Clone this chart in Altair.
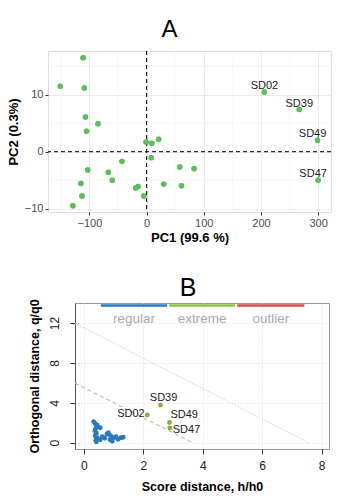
import altair as alt
import pandas as pd

FONT = "Liberation Sans"

# ---------------- Panel A data (PCA scores) ----------------
pc1 = [-111, -151, -109, -107, -85, -105, -1, 9, 21, 8, -43, -103, -67, -60,
       -115, -113, -129, -19, -15, -5, 30, 58, 83, 61, 206, 267, 299, 300]
pc2 = [16.5, 11.5, 11.2, 6.1, 4.9, 3.6, 1.7, 1.5, 2.2, -1.05, -1.7, -3.2, -3.6, -5.0,
       -5.6, -7.8, -9.5, -6.4, -6.1, -7.8, -5.7, -2.7, -3.0, -6.0, 10.5, 7.4, 2.0, -5.0]
names_a = [""] * 24 + ["SD02", "SD39", "SD49", "SD47"]
zero_ref = [0]
x_major_a = [-100, 0, 100, 200, 300]
x_minor_a = [-150, -50, 50, 150, 250]
y_major_a = [-10, 0, 10]
y_minor_a = [-5, 5, 15]

# ---------------- Panel B data (DD-SIMCA distances) ----------------
reg_h = [0.33, 0.38, 0.45, 0.55, 0.40, 0.37, 0.42, 0.38, 0.45, 0.40, 0.42, 0.55,
         0.62, 0.70, 0.78, 0.82, 0.90, 0.88, 0.95, 1.00, 1.08, 1.15, 1.25, 1.32]
reg_q = [2.10, 1.90, 1.75, 1.50, 1.45, 1.20, 0.95, 0.70, 0.50, 0.25, 0.08, 0.30,
         0.60, 0.45, 0.85, 1.00, 0.70, 0.30, 0.15, 0.50, 0.60, 0.35, 0.50, 0.55]
ext_names = ["SD02", "SD39", "SD49", "SD47"]
ext_h = [2.13, 2.58, 2.88, 2.89]
ext_q = [2.77, 3.77, 2.03, 1.47]

extreme_line_h = [-0.3, 3.66]
extreme_line_q = [5.97, 0.0]
outlier_line_h = [-0.3, 7.56]
outlier_line_q = [11.97, 0.0]

legend_labels = ["regular", "extreme", "outlier"]
legend_start = [0.57, 2.87, 5.16]
legend_end = [2.80, 5.09, 7.42]
legend_colors = ["#2b7bba", "#8bc34a", "#e0474c"]

x_ticks_b = [0, 2, 4, 6, 8]
y_ticks_b = [0, 2, 4, 6, 8, 10, 12, 14]

# ================= Panel A =================
dfA = pd.DataFrame({"pc1": pc1, "pc2": pc2, "name": names_a})
dfZero = pd.DataFrame({"zero": zero_ref})
dfMinX = pd.DataFrame({"v": x_minor_a})
dfMinY = pd.DataFrame({"v": y_minor_a})

xA_scale = alt.Scale(domain=[-172.5, 322.5], nice=False, zero=False)
yA_scale = alt.Scale(domain=[-10.6, 17.7], nice=False, zero=False)

xA_axis = alt.Axis(
    title="PC1 (99.6 %)", values=x_major_a, format="d",
    labelOverlap=False, labelFlush=False,
    gridColor="#ebebeb", gridWidth=1, domain=False, tickColor="#333333", tickSize=3,
    labelColor="#4d4d4d", labelFontSize=11, labelPadding=2, labelFont=FONT,
    titleFont=FONT, titleFontSize=13, titleFontWeight="bold", titleColor="black",
    titlePadding=3,
)
yA_axis = alt.Axis(
    title="PC2 (0.3%)", values=y_major_a, format="d",
    labelOverlap=False, labelFlush=False,
    gridColor="#ebebeb", gridWidth=1, domain=False, tickColor="#333333", tickSize=3,
    labelColor="#4d4d4d", labelFontSize=11, labelPadding=2, labelFont=FONT,
    titleFont=FONT, titleFontSize=13, titleFontWeight="bold", titleColor="black",
    titlePadding=4,
)

ptsA = alt.Chart(dfA).mark_circle(size=30, color="#5dbe5d", opacity=1).encode(
    x=alt.X("pc1:Q", scale=xA_scale, axis=xA_axis),
    y=alt.Y("pc2:Q", scale=yA_scale, axis=yA_axis),
)
minor_vx = alt.Chart(dfMinX).mark_rule(color="#f2f2f2", strokeWidth=0.7).encode(x=alt.X("v:Q"))
minor_hy = alt.Chart(dfMinY).mark_rule(color="#f2f2f2", strokeWidth=0.7).encode(y=alt.Y("v:Q"))
zero_v = alt.Chart(dfZero).mark_rule(color="black", strokeDash=[4, 3], strokeWidth=1).encode(x="zero:Q")
zero_h = alt.Chart(dfZero).mark_rule(color="black", strokeDash=[4, 3], strokeWidth=1).encode(y="zero:Q")
lab_center = alt.Chart(dfA).transform_filter("datum.name === 'SD02' || datum.name === 'SD39'").mark_text(
    font=FONT, fontSize=11, color="#1a1a1a", baseline="alphabetic", dy=-2.5
).encode(x="pc1:Q", y="pc2:Q", text="name:N")
lab_left = alt.Chart(dfA).transform_filter("datum.name === 'SD49' || datum.name === 'SD47'").mark_text(
    font=FONT, fontSize=11, color="#1a1a1a", baseline="alphabetic", dy=-3, dx=-5
).encode(x="pc1:Q", y="pc2:Q", text="name:N")

chartA = alt.layer(ptsA, minor_vx, minor_hy, zero_v, zero_h, ptsA, lab_center, lab_left).properties(
    width=283, height=161,
    title=alt.TitleParams("A", font=FONT, fontSize=24, fontWeight="normal", color="black",
                          anchor="middle", dx=-20, offset=-10, baseline="alphabetic"),
)

# ================= Panel B =================
dfReg = pd.DataFrame({"h": reg_h, "q": reg_q})
dfExt = pd.DataFrame({"h": ext_h, "q": ext_q, "name": ext_names})
dfExtLine = pd.DataFrame({"h": extreme_line_h, "q": extreme_line_q})
dfOutLine = pd.DataFrame({"h": outlier_line_h, "q": outlier_line_q})
dfLeg = pd.DataFrame({"label": legend_labels, "start": legend_start, "end": legend_end})

xB_scale = alt.Scale(domain=[-0.3, 8.25], nice=False, zero=False)
yB_scale = alt.Scale(domain=[-0.63, 14], nice=False, zero=False)

xB_axis = alt.Axis(
    title="Score distance, h/h0", values=x_ticks_b,
    labelOverlap=False, labelFlush=False,
    grid=True, gridColor="#dddddd", gridDash=[1, 2], domain=False,
    tickColor="#333333", tickSize=5, labelColor="#222222", labelFontSize=12, labelFont=FONT,
    labelPadding=6, titleFont=FONT, titleFontSize=12.5, titleFontWeight="bold",
    titleColor="black", titlePadding=9,
)
yB_axis = alt.Axis(
    title="Orthogonal distance, q/q0", values=y_ticks_b,
    labelOverlap=False, labelFlush=False,
    grid=True, gridColor="#dddddd", gridDash=[1, 2], domain=True, domainColor="#555555",
    tickColor="#333333", tickSize=5, labelColor="#222222", labelFontSize=12, labelFont=FONT,
    labelAngle=270, labelAlign="center", labelBaseline="bottom", labelPadding=9,
    titleFont=FONT, titleFontSize=12.5, titleFontWeight="bold", titleColor="black",
    titlePadding=7,
)

extLine = alt.Chart(dfExtLine).mark_line(color="#aaaaaa", strokeDash=[4, 3], strokeWidth=1, clip=True).encode(
    x=alt.X("h:Q", scale=xB_scale, axis=xB_axis), y=alt.Y("q:Q", scale=yB_scale, axis=yB_axis))
outLine = alt.Chart(dfOutLine).mark_line(color="#bbbbbb", strokeDash=[1, 2], strokeWidth=1, clip=True).encode(
    x="h:Q", y="q:Q")
legRules = alt.Chart(dfLeg).mark_rule(strokeWidth=2.5).encode(
    x="start:Q", x2="end:Q", y=alt.datum(13.75),
    color=alt.Color("label:N", scale=alt.Scale(domain=legend_labels, range=legend_colors), legend=None),
)
legText = alt.Chart(dfLeg).transform_calculate(mid="(datum.start + datum.end) / 2").mark_text(
    font=FONT, fontSize=13.5, color="#aaaaaa", baseline="middle"
).encode(x="mid:Q", y=alt.datum(12.35), text="label:N")
regPts = alt.Chart(dfReg).mark_circle(size=24, color="#2b7bba", opacity=1).encode(x="h:Q", y="q:Q")
extPts = alt.Chart(dfExt).mark_circle(size=24, color="#86b03c", opacity=1).encode(x="h:Q", y="q:Q")


def ext_label(name, **kw):
    return alt.Chart(dfExt).transform_filter(f"datum.name === '{name}'").mark_text(
        font=FONT, fontSize=11, color="#1a1a1a", **kw).encode(x="h:Q", y="q:Q", text="name:N")


labB = [
    ext_label("SD39", align="center", baseline="alphabetic", dx=3, dy=-4),
    ext_label("SD02", align="right", baseline="middle", dx=-2.5, dy=-1.5),
    ext_label("SD49", align="left", baseline="middle", dx=1, dy=-7),
    ext_label("SD47", align="left", baseline="middle", dx=3, dy=1.5),
]

chartB = alt.layer(extLine, outLine, legRules, legText, regPts, extPts, *labB).properties(
    width=254, height=146,
    view=alt.ViewBackground(stroke="#999999", strokeWidth=1),
    title=alt.TitleParams("B", font=FONT, fontSize=25, fontWeight="normal", color="black",
                          anchor="middle", dx=-14, offset=-22, baseline="alphabetic"),
)

spacer = alt.Chart(dfZero).mark_point(opacity=0).properties(width=1, height=146)
rowB = alt.hconcat(spacer, chartB, spacing=26, bounds="flush")

chart = alt.vconcat(chartA, rowB, spacing=30).properties(
    padding={"left": 6, "top": 17, "right": 0, "bottom": 0}
).configure_view(stroke="transparent").configure(font=FONT, background="white")

chart.save("out.html", embed_options={"renderer": "svg", "actions": False})
